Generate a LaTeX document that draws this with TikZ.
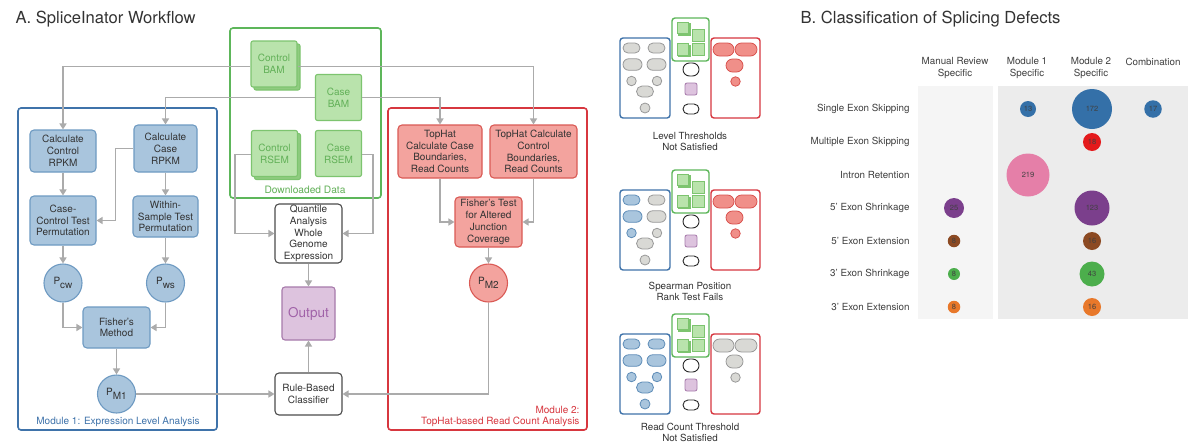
\documentclass[tikz,border=0pt]{standalone}
\usepackage{fontspec}
\setmainfont{TeX Gyre Heros}
\usetikzlibrary{arrows.meta,shapes.misc}
\definecolor{modblue}{HTML}{3F73AA}
\definecolor{nblue}{HTML}{A9C5DD}
\definecolor{nblueb}{HTML}{6E9AC2}
\definecolor{modgreen}{HTML}{5DB65A}
\definecolor{ngreen}{HTML}{B9E3AC}
\definecolor{ngreenb}{HTML}{7DC46F}
\definecolor{ngreent}{HTML}{62B058}
\definecolor{ngreens}{HTML}{8FCC80}
\definecolor{modred}{HTML}{D7373F}
\definecolor{nred}{HTML}{F3A39E}
\definecolor{nredb}{HTML}{DA5A55}
\definecolor{lgray}{HTML}{ABABAB}
\definecolor{npurp}{HTML}{DDC3DE}
\definecolor{npurpb}{HTML}{A77AAB}
\definecolor{npurpt}{HTML}{A062A8}
\definecolor{txt}{HTML}{333333}
\definecolor{igray}{HTML}{D9D9D5}
\definecolor{igrayb}{HTML}{999999}
\definecolor{iblue}{HTML}{A9C5DD}
\definecolor{iblueb}{HTML}{5F8DB8}
\definecolor{ired}{HTML}{F08F89}
\definecolor{iredb}{HTML}{D9534F}
\definecolor{bgA}{HTML}{F5F5F5}
\definecolor{bgB}{HTML}{ECECEC}
\definecolor{cblue}{HTML}{3470A8}
\definecolor{cred}{HTML}{E41A1C}
\definecolor{cpink}{HTML}{E57FA8}
\definecolor{cpurp}{HTML}{7B3F8C}
\definecolor{cbrown}{HTML}{8C4A23}
\definecolor{cgreen}{HTML}{4CAE4C}
\definecolor{corange}{HTML}{E8782A}
\tikzset{
  nodefont/.style={font=\fontsize{10}{11.8}\selectfont},
  bnode/.style={nodefont, rectangle, rounded corners=4, fill=nblue, draw=nblueb, line width=1.1pt, text=txt, align=center, inner sep=1pt},
  bcirc/.style={nodefont, circle, fill=nblue, draw=nblueb, line width=1.1pt, text=txt, minimum size=38, inner sep=0},
  rnode/.style={nodefont, rectangle, rounded corners=4, fill=nred, draw=nredb, line width=1.1pt, text=txt, align=center, inner sep=1pt},
  rcirc/.style={nodefont, circle, fill=nred, draw=nredb, line width=1.1pt, text=txt, minimum size=38, inner sep=0},
  gnode/.style={nodefont, rectangle, rounded corners=2, fill=ngreen, draw=ngreenb, line width=1.1pt, text=ngreent, align=center, minimum width=46, minimum height=46, inner sep=0},
  gshadow/.style={rectangle, rounded corners=2, fill=ngreens, draw=ngreenb, line width=1.1pt, minimum width=46, minimum height=46, inner sep=0},
  wnode/.style={nodefont, rectangle, rounded corners=4, fill=white, draw=black!70, line width=1.1pt, text=txt, align=center, inner sep=1pt},
  onode/.style={rectangle, rounded corners=3, fill=npurp, draw=npurpb, line width=1.1pt, text=npurpt, font=\fontsize{13.5}{15}\selectfont, minimum width=53, minimum height=53},
  modbox/.style={rounded corners=3, line width=1.6pt},
  arr/.style={draw=lgray, line width=1.6pt, -{Triangle[length=6pt,width=7pt]}},
  mbox/.style={rounded corners=3, line width=1.4pt, draw=#1},
  ig/.style={fill=igray, draw=igrayb, line width=0.8pt},
  ib/.style={fill=iblue, draw=iblueb, line width=0.8pt},
  ir/.style={fill=ired, draw=iredb, line width=0.8pt},
  rr/.style={rounded rectangle, inner sep=0},
  sq/.style={rectangle, inner sep=0, minimum size=11.5, fill=ngreen, draw=ngreenb, line width=0.8pt},
  sqs/.style={rectangle, inner sep=0, minimum size=11.5, fill=ngreenb, draw=ngreenb, line width=0.8pt},
  captxt/.style={font=\fontsize{9.8}{11.5}\selectfont, text=txt},
  rowlab/.style={font=\fontsize{9.8}{11}\selectfont, text=black!75, anchor=east},
  colhead/.style={font=\fontsize{9.8}{11.8}\selectfont, text=black!75, align=center},
  bub/.style={circle, inner sep=0, font=\fontsize{7.5}{8}\selectfont, text=black!75}
}
\newcommand{\schem}[5]{%
\begin{scope}[shift={(0,#1)}]
  \draw[mbox=modblue] (620,38) rectangle (670,118);
  \draw[mbox=modred] (711,38) rectangle (760,118);
  \draw[mbox=modgreen] (672,18) rectangle (709,61);
  \node[rr,#2,minimum width=17,minimum height=10] at (631.5,48) {};
  \node[rr,#3,minimum width=17,minimum height=10] at (656.5,48) {};
  \node[rr,#2,minimum width=19,minimum height=11.5] at (632.5,64.5) {};
  \node[rr,#3,minimum width=19,minimum height=11.5] at (656.5,64.5) {};
  \node[circle,inner sep=0,minimum size=9.5,#2] at (631.5,81) {};
  \node[circle,inner sep=0,minimum size=9.5,#3] at (657,81) {};
  \node[rr,#4,minimum width=17,minimum height=11] at (645,91.5) {};
  \node[circle,inner sep=0,minimum size=10,#4] at (645,108) {};
  \node[sqs] at (684.2,29.2) {};
  \node[sq] at (683,28) {};
  \node[sq] at (698.5,35.5) {};
  \node[sqs] at (684.2,50.7) {};
  \node[sq] at (683,49.5) {};
  \node[sq] at (698.5,49.5) {};
  \node[rr,draw=black!85,fill=white,line width=0.9pt,minimum width=16,minimum height=13] at (691,69.5) {};
  \node[rectangle,rounded corners=2,inner sep=0,minimum size=12,fill=npurp,draw=npurpb,line width=0.8pt] at (691,89) {};
  \node[rr,draw=black!85,fill=white,line width=0.9pt,minimum width=16,minimum height=10] at (691,109) {};
  \node[rr,#5,minimum width=21,minimum height=13] at (723.5,49.5) {};
  \node[rr,#5,minimum width=22,minimum height=13] at (746,49.5) {};
  \node[rr,#5,minimum width=17,minimum height=13] at (734.5,65.5) {};
  \node[circle,inner sep=0,minimum size=9.5,#5] at (735.5,81.5) {};
\end{scope}}
\begin{document}
\begin{tikzpicture}[x=1pt,y=-1pt]
\useasboundingbox[fill=white] (0,0) rectangle (1190,445);

% ---------------- Panel A ----------------
\node[anchor=base west, font=\fontsize{16.6}{18}\selectfont, text=txt] (titleA) at (12,23) {A. SpliceInator Workflow};

\draw[modbox, draw=modblue] (18,108) rectangle (217,430);
\draw[modbox, draw=modgreen] (230,28) rectangle (381,198);
\draw[modbox, draw=modred] (388,108) rectangle (587,430);

% data nodes
\node[gshadow] at (277,67) {};
\node[gnode] (cbam) at (274,64) {Control\\BAM};
\node[gnode] (casebam) at (338.5,97.5) {Case\\BAM};
\node[gshadow] at (277.5,156.5) {};
\node[gnode] (crsem) at (274.5,153.5) {Control\\RSEM};
\node[gnode] (casersem) at (338.5,153.5) {Case\\RSEM};
\node[font=\fontsize{10.2}{12}\selectfont, text=ngreent] (dl) at (305,190) {Downloaded Data};

% module 1
\node[bnode, minimum width=66, minimum height=42] (ccr) at (63,151) {Calculate\\Control\\RPKM};
\node[bnode, minimum width=63, minimum height=47] (ccase) at (165.5,148.5) {Calculate\\Case\\RPKM};
\node[bnode, minimum width=66, minimum height=49] (cct) at (63,220.5) {Case-\\Control Test\\Permutation};
\node[bnode, minimum width=65, minimum height=41] (wst) at (165.5,216.5) {Within-\\Sample Test\\Permutation};
\node[bcirc] (pcw) at (63,283) {P\raisebox{-3.5pt}{cw}};
\node[bcirc] (pws) at (165.5,283) {P\raisebox{-3.5pt}{ws}};
\node[bnode, minimum width=67, minimum height=41] (fm) at (116.5,327.5) {Fisher's\\Method};
\node[bcirc] (pm1) at (116.5,394) {P\raisebox{-3.5pt}{M1}};
\node[font=\fontsize{10}{12}\selectfont, text=modblue] (m1lab) at (118,422) {Module 1: Expression Level Analysis};

% centre
\node[wnode, minimum width=67, minimum height=59] (qa) at (308.5,233.5) {Quantile\\Analysis\\Whole\\Genome\\Expression};
\node[onode] (out) at (308.5,313.5) {Output};
\node[wnode, minimum width=67, minimum height=42] (rbc) at (308.5,394) {Rule-Based\\Classifier};

% module 2
\node[rnode, minimum width=84, minimum height=53] (thcase) at (440,151.5) {TopHat\\Calculate Case\\Boundaries,\\Read Counts};
\node[rnode, minimum width=87, minimum height=53] (thctl) at (533.5,151.5) {TopHat Calculate\\Control\\Boundaries,\\Read Counts};
\node[rnode, minimum width=67, minimum height=50] (ft) at (488.5,222) {Fisher's Test\\for Altered\\Junction\\Coverage};
\node[rcirc] (pm2) at (488.5,283) {P\raisebox{-3.5pt}{M2}};
\node[font=\fontsize{10}{11.5}\selectfont, text=modred, align=right, anchor=east] (m2lab) at (583,416.5) {Module 2:\\TopHat-based Read Count Analysis};

% connectors
\draw[arr] ([yshift=-2.5pt]cbam.west) -| (ccr.north);
\draw[arr] ([yshift=-2.5pt]cbam.east) -| (thctl.north);
\draw[arr] (casebam.west) -| (ccase.north);
\draw[arr] (casebam.east) -| (thcase.north);
\draw[arr] (ccase.west) -- ++(-18,0) |- (cct.east);
\draw[arr] (ccr) -- (cct);
\draw[arr] (ccase) -- (wst);
\draw[arr] (cct) -- (pcw);
\draw[arr] (wst) -- (pws);
\draw[arr] (pcw.south) |- (fm.west);
\draw[arr] (pws.south) |- (fm.east);
\draw[arr] (fm) -- (pm1);
\draw[arr] (pm1) -- (rbc);
\draw[arr] ([yshift=-1pt]crsem.west) -- ++(-16,0) |- (qa.west);
\draw[arr] ([yshift=-1pt]casersem.east) -- ++(11,0) |- (qa.east);
\draw[arr] (qa) -- (out);
\draw[arr] (rbc) -- (out);
\draw[arr] (pm2.south) |- (rbc.east);
\draw[arr] (thcase.south) |- (ft.west);
\draw[arr] (thctl.south) |- (ft.east);
\draw[arr] (ft) -- (pm2);

% ---------------- middle schematics ----------------
\schem{0}{ig}{ig}{ig}{ir}
\node[captxt, align=center] (c1) at (690,141.5) {Level Thresholds\\Not Satisfied};
\schem{152}{ib}{ig}{ig}{ir}
\node[captxt, align=center] (c2) at (690,291.5) {Spearman Position\\Rank Test Fails};
\schem{296}{ib}{ib}{ib}{ig}
\node[captxt, align=center] (c3) at (690,432.5) {Read Count Threshold\\Not Satisfied};

% ---------------- Panel B ----------------
\node[anchor=base west, font=\fontsize{16.6}{18}\selectfont, text=txt] (titleB) at (797,23) {B. Classification of Splicing Defects};
\fill[bgA] (918,86) rectangle (993,319);
\fill[bgB] (998,86) rectangle (1188,319);
\node[colhead] (h1) at (955,68) {Manual Review\\Specific};
\node[colhead] (h2) at (1027,68) {Module 1\\Specific};
\node[colhead] (h3) at (1091,68) {Module 2\\Specific};
\node[colhead] (h4) at (1153,62) {Combination};
\node[rowlab] (r1) at (913,109) {Single Exon Skipping};
\node[rowlab] (r2) at (913,142) {Multiple Exon Skipping};
\node[rowlab] (r3) at (913,175) {Intron Retention};
\node[rowlab] (r4) at (913,208) {5' Exon Shrinkage};
\node[rowlab] (r5) at (913,241) {5' Exon Extension};
\node[rowlab] (r6) at (913,274) {3' Exon Shrinkage};
\node[rowlab] (r7) at (913,307) {3' Exon Extension};
\node[bub, fill=cblue, minimum size=16] (b1) at (1028,109) {13};
\node[bub, fill=cblue, minimum size=40] (b2) at (1092,109) {172};
\node[bub, fill=cblue, minimum size=17.5] (b3) at (1153,109) {17};
\node[bub, fill=cred, minimum size=18] (b4) at (1092,142) {18};
\node[bub, fill=cpink, minimum size=43] (b5) at (1028,175) {219};
\node[bub, fill=cpurp, minimum size=20] (b6) at (954,208) {25};
\node[bub, fill=cpurp, minimum size=35] (b7) at (1092,208) {123};
\node[bub, fill=cbrown, minimum size=12.5] (b8) at (954,241) {8};
\node[bub, fill=cbrown, minimum size=18] (b9) at (1092,241) {16};
\node[bub, fill=cgreen, minimum size=12] (b10) at (954,274) {8};
\node[bub, fill=cgreen, minimum size=25] (b11) at (1092,274) {43};
\node[bub, fill=corange, minimum size=12.5] (b12) at (954,307) {8};
\node[bub, fill=corange, minimum size=18] (b13) at (1092,307) {16};
\end{tikzpicture}
\end{document}
